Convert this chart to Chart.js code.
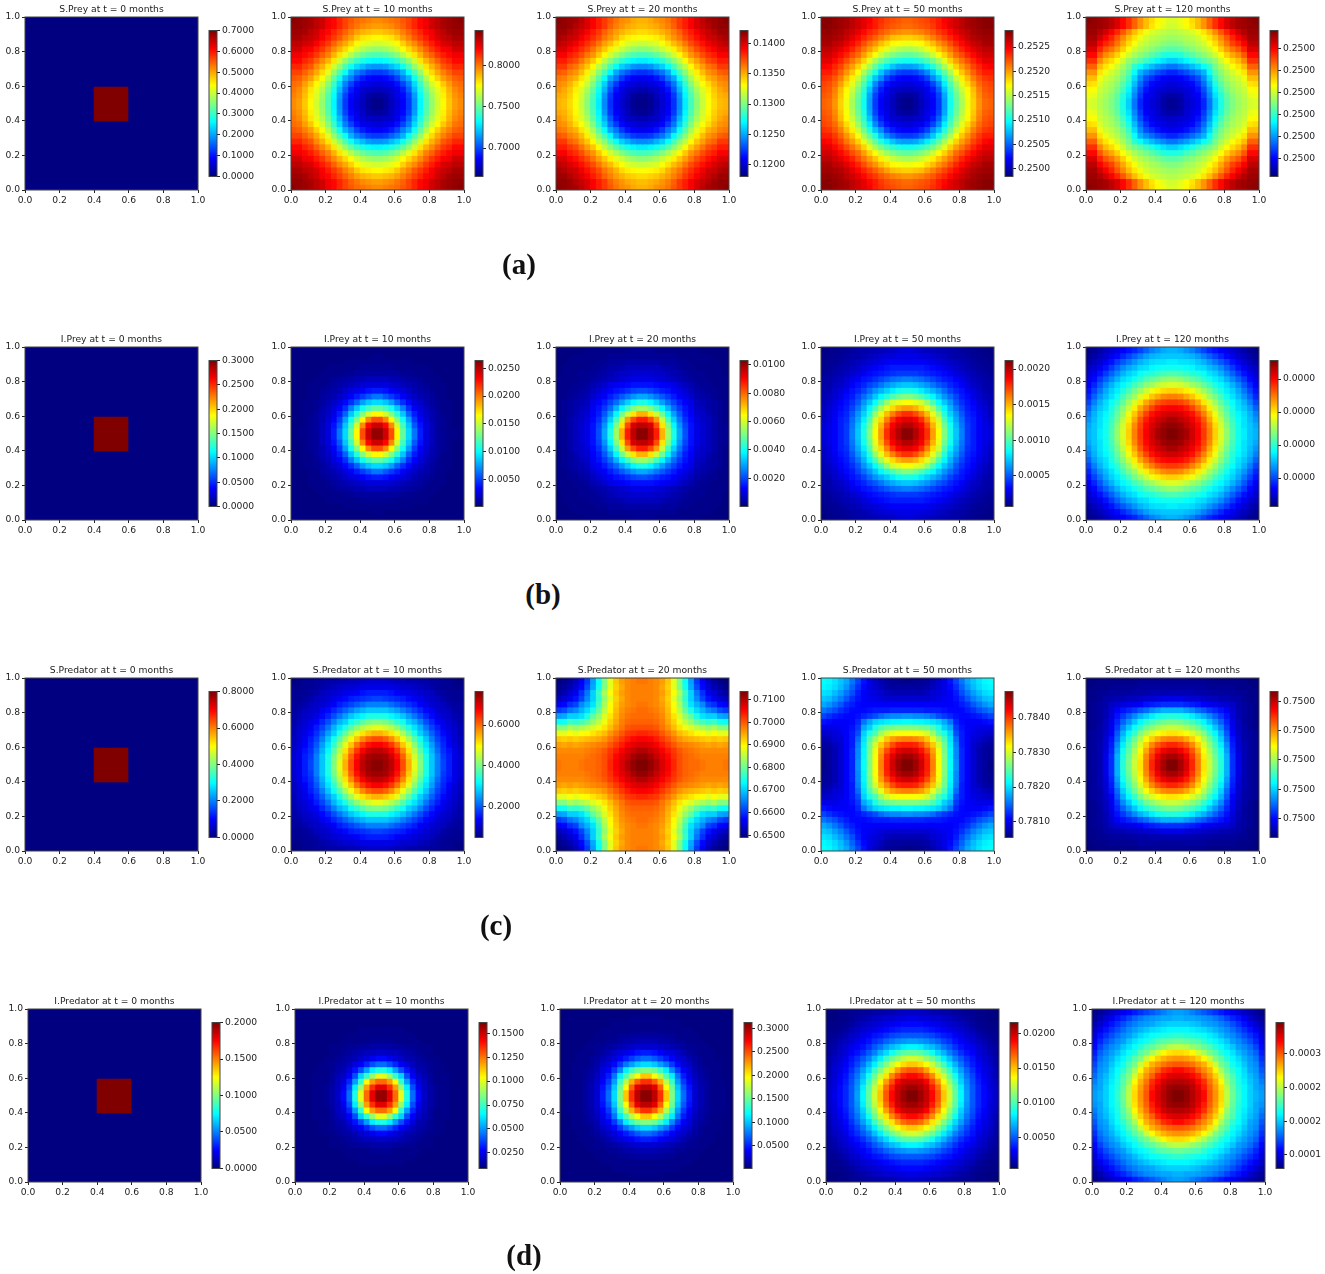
<!DOCTYPE html>
<html>
<head>
<meta charset="utf-8">
<script src="https://cdn.jsdelivr.net/npm/chart.js@4"></script>
<style>
  html, body { margin: 0; background: #fff; }
  #page { position: relative; width: 1325px; height: 1274px; overflow: hidden; }
  canvas { position: absolute; }
  .tag { position: absolute; font: bold 29px "Liberation Serif", serif; color: #111; transform: translate(-50%, -50%); }
</style>
</head>
<body>
<div id="page"></div>
<script>
// Cell levels, as % of each panel's colour bar.
// Fields are mirror symmetric, so only the corner triangle of the 30x30 grid is kept:
// row j runs from cell j to the middle of the panel.
var initialMask = [
  [0,0,0,0,0,0,0,0,0,0,0,0,0,0,0],[0,0,0,0,0,0,0,0,0,0,0,0,0,0],[0,0,0,0,0,0,0,0,0,0,0,0,0],
  [0,0,0,0,0,0,0,0,0,0,0,0],[0,0,0,0,0,0,0,0,0,0,0],[0,0,0,0,0,0,0,0,0,0],[0,0,0,0,0,0,0,0,0],
  [0,0,0,0,0,0,0,0],[0,0,0,0,0,0,0],[0,0,0,0,0,0],[0,0,0,0,0],[0,0,0,0],[100,100,100],[100,100],[100]
];
var sPrey10 = [
  [99,98,97,96,94,92,89,87,84,81,79,77,76,75,74],[98,97,96,94,92,89,87,84,81,78,76,74,73,72],
  [96,94,92,89,87,84,81,78,75,72,70,69,68],[93,91,88,85,82,79,75,72,68,65,64,63],
  [88,85,82,78,74,71,67,63,60,59,58],[82,78,74,70,66,62,58,55,53,52],[75,70,65,60,55,51,48,46,45],
  [65,58,52,47,43,40,38,37],[52,45,39,34,31,28,27],[38,30,25,22,19,18],[25,19,15,13,12],[14,11,10,9],[8,7,6],[4,3],[1]
];
var sPrey20 = [
  [99,98,97,96,94,91,88,85,82,79,76,74,73,71,70],[98,97,95,93,91,88,85,82,78,75,73,71,70,69],
  [95,93,91,88,85,82,78,75,72,70,68,67,66],[92,89,86,83,80,76,73,70,66,64,63,62],
  [86,83,80,76,72,69,65,62,59,58,57],[80,76,72,68,64,60,57,54,52,51],[73,68,63,58,54,50,47,45,44],
  [63,56,51,46,42,39,37,36],[51,44,38,33,30,27,26],[37,29,24,21,18,17],[24,18,14,12,11],[13,10,9,8],[7,6,5],[3,2],[1]
];
var sPrey50 = [
  [99,99,98,97,96,94,92,90,88,85,83,81,80,79,78],[99,98,97,96,94,92,90,87,85,82,80,79,78,77],
  [97,96,94,92,90,87,84,82,79,77,75,74,73],[95,93,90,87,84,81,78,75,72,69,68,67],
  [90,87,84,80,76,73,69,66,63,62,61],[84,80,76,72,68,64,60,57,55,54],[77,72,67,62,57,53,50,48,47],
  [67,60,54,49,45,42,40,39],[54,47,41,36,32,29,28],[40,32,26,22,19,18],[26,19,15,13,12],[14,11,10,9],[8,7,6],[4,3],[1]
];
var sPrey120 = [
  [99,98,97,96,94,91,87,83,78,73,69,66,63,61,59],[98,97,96,94,91,87,83,78,73,69,65,62,60,58],
  [95,92,88,84,79,74,69,65,61,59,57,56,55],[88,84,79,74,69,65,61,58,56,55,54,53],
  [81,76,71,66,62,58,56,54,53,51,50],[72,67,62,58,55,53,51,49,47,46],[62,58,54,51,49,46,44,41,40],
  [52,49,46,43,40,37,35,33],[42,38,34,31,28,26,24],[30,26,23,20,18,16],[20,17,14,12,11],[13,11,10,9],[9,8,7],[5,4],[2]
];
var iPrey10 = [
  [0,0,0,0,0,0,0,0,0,0,0,0,0,0,0],[0,0,0,0,0,0,0,0,0,0,0,0,0,1],[0,0,0,0,0,0,0,1,1,1,1,1,1],
  [0,0,0,1,1,1,1,1,1,2,2,2],[0,1,1,1,1,2,2,3,3,3,3],[1,1,2,3,3,4,5,5,6,6],[2,3,4,5,6,7,8,9,9],
  [4,5,7,9,10,12,14,15],[7,9,12,15,18,21,24],[13,17,22,28,32,34],[25,32,39,44,47],[41,50,58,63],[63,74,80],[87,92],[98]
];
var iPrey20 = [
  [0,0,0,0,0,1,1,1,1,1,1,1,1,2,2],[0,0,1,1,1,1,1,1,2,2,2,2,2,2],[1,1,1,1,1,2,2,3,3,3,4,4,4],
  [1,1,1,2,2,3,4,4,5,6,6,6],[2,2,2,3,4,5,6,7,7,8,8],[2,3,4,5,6,7,8,9,10,10],[5,6,8,10,11,12,13,14,14],
  [8,10,12,14,15,17,19,20],[12,15,18,21,24,27,29],[19,23,28,33,37,40],[30,37,44,50,53],[48,57,65,70],[72,80,85],[91,94],[99]
];
var iPrey50 = [
  [0,1,1,2,2,3,4,4,5,5,6,6,7,8,9],[1,2,2,3,4,4,5,6,7,8,9,9,10,10],[2,3,4,5,6,7,8,9,10,11,12,12,12],
  [4,5,6,7,9,10,12,13,14,15,15,15],[6,8,9,11,13,14,15,16,17,18,18],[10,12,14,15,17,19,21,23,24,25],
  [14,16,19,21,24,27,29,31,32],[19,23,27,30,33,36,39,40],[27,32,37,41,45,48,50],[38,45,52,58,60,62],
  [54,60,66,70,72],[69,75,80,83],[83,88,90],[92,95],[99]
];
var iPrey120 = [
  [1,2,4,6,8,10,12,14,16,19,22,25,27,29,30],[4,6,8,11,13,16,19,22,25,28,30,31,32,32],
  [8,11,14,18,21,24,27,30,32,34,35,35,36],[14,18,22,26,29,31,34,35,37,38,39,39],
  [22,26,30,33,35,38,40,41,43,44,45],[30,34,36,39,42,45,47,49,51,52],[37,40,44,47,51,53,56,58,59],
  [44,49,53,57,61,64,66,67],[53,59,64,68,71,74,75],[65,71,75,79,81,82],[76,81,85,87,88],[86,89,91,92],[92,94,96],[97,98],[100]
];
var sPred10 = [
  [0,1,2,2,3,3,4,4,5,5,6,6,7,8,8],[1,2,2,3,4,5,6,7,8,8,9,10,10,10],[2,3,4,6,7,8,9,10,11,12,14,15,15],
  [4,6,7,8,10,11,13,15,16,17,18,19],[7,8,10,12,15,17,19,21,23,25,25],[11,13,16,19,22,25,28,30,32,32],
  [16,20,24,28,32,35,37,40,40],[25,30,33,39,42,46,49,50],[35,40,46,51,55,58,60],[47,54,60,65,68,70],
  [61,68,74,78,80],[76,82,86,88],[88,92,94],[96,97],[99]
];
var sPred20 = [
  [0,1,3,6,12,18,28,38,50,60,68,72,74,75,76],[3,5,8,13,20,29,39,50,60,67,71,74,75,75],
  [8,11,17,24,33,43,54,62,68,72,74,75,75],[14,19,26,33,42,52,60,67,71,74,75,75],
  [26,30,35,44,54,62,68,72,74,75,76],[34,40,47,56,63,69,73,75,76,77],[47,52,59,65,70,74,76,77,77],
  [56,61,67,71,75,77,78,78],[65,69,73,76,79,80,80],[73,76,79,82,83,84],[79,82,85,87,88],[85,88,90,91],[91,93,95],[96,98],[100]
];
var sPred50 = [
  [38,37,35,32,29,24,19,14,10,7,5,3,2,2,1],[36,34,31,27,22,17,13,10,8,6,4,3,3,3],[31,28,24,20,15,12,10,9,8,6,5,5,5],
  [25,21,17,14,12,11,10,9,8,8,8,8],[17,15,13,12,12,12,12,12,12,12,12],[13,13,13,14,15,15,15,16,16,16],
  [14,16,18,20,23,25,26,26,27],[24,29,33,35,36,37,37,38],[33,40,45,48,49,50,50],[45,53,58,61,62,62],
  [60,68,72,74,75],[74,80,84,85],[86,90,92],[95,97],[100]
];
var sPred120 = [
  [0,0,1,1,1,1,1,1,1,2,2,2,2,2,2],[1,1,1,2,2,2,2,2,3,3,3,3,3,3],[2,2,3,3,3,3,4,4,4,5,5,5,5],
  [4,4,5,5,6,6,7,8,8,9,10,10],[7,8,9,10,11,12,14,15,16,17,17],[12,14,16,18,21,23,26,28,30,30],
  [18,22,26,30,33,36,39,40,41],[27,32,37,41,44,46,48,49],[38,43,48,51,54,56,57],[50,55,59,62,64,65],
  [62,67,71,74,75],[74,79,82,84],[85,89,91],[94,96],[100]
];
var iPred10 = [
  [0,0,0,0,0,0,0,0,0,0,0,0,0,0,0],[0,0,0,0,0,0,0,0,0,0,0,0,0,0],[0,0,0,0,0,0,0,0,0,0,0,0,0],
  [0,0,0,0,0,0,0,0,1,1,1,1],[0,0,0,0,0,1,1,1,1,1,1],[0,0,0,1,1,1,1,1,2,2],[1,1,1,2,2,3,3,4,4],
  [1,2,3,4,5,6,6,7],[3,4,5,7,9,11,13],[6,9,12,16,20,23],[14,20,28,36,40],[33,42,52,60],[62,72,77],[83,90],[98]
];
var iPred20 = [
  [0,0,0,0,0,0,0,0,0,0,0,0,0,0,0],[0,0,0,0,0,0,0,0,0,0,0,1,1,1],[0,0,0,0,0,0,0,1,1,1,1,1,1],
  [0,0,0,0,1,1,1,1,1,1,1,1],[0,0,1,1,1,1,2,2,3,3,3],[1,1,1,2,2,3,4,4,5,5],[2,2,3,4,5,6,7,8,8],
  [3,5,7,9,10,12,14,15],[7,9,12,15,18,21,23],[13,18,24,28,32,34],[26,36,43,48,50],[45,55,62,68],[70,78,83],[90,94],[99]
];
var iPred50 = [
  [0,0,1,1,2,2,3,3,4,4,5,5,6,7,7],[0,1,1,2,3,4,5,6,7,8,8,9,9,10],[1,2,3,5,6,7,8,9,10,11,12,13,13],
  [3,5,6,8,9,10,12,13,14,15,16,16],[7,8,10,12,14,15,17,19,20,21,21],[10,12,14,17,19,22,24,26,27,28],
  [14,17,21,24,28,31,33,36,37],[21,25,30,34,39,43,46,47],[31,36,43,48,52,56,58],[44,50,57,62,66,68],
  [58,65,72,77,79],[74,80,85,87],[88,92,93],[95,97],[100]
];
var iPred120 = [
  [1,3,5,7,9,11,13,15,17,19,21,23,25,27,28],[5,8,11,14,16,19,22,24,26,27,28,29,29,30],
  [11,14,17,20,23,25,27,28,29,31,32,33,33],[17,20,23,26,28,30,32,34,35,36,37,37],
  [23,26,28,31,34,36,38,39,40,41,42],[28,32,35,37,39,42,45,46,47,48],[35,38,41,45,47,50,52,55,56],
  [41,46,49,54,58,63,65,66],[50,57,63,67,70,72,73],[65,70,73,76,78,79],[74,78,83,85,87],[84,87,90,91],[92,94,95],[97,98],[100]
];

var speciesNames = ['S.Prey', 'I.Prey', 'S.Predator', 'I.Predator'];
var months = [0, 10, 20, 50, 120];
var rowTags = ['(a)', '(b)', '(c)', '(d)'];
var fields = [
  [initialMask, sPrey10, sPrey20, sPrey50, sPrey120],
  [initialMask, iPrey10, iPrey20, iPrey50, iPrey120],
  [initialMask, sPred10, sPred20, sPred50, sPred120],
  [initialMask, iPred10, iPred20, iPred50, iPred120]
];

// colour bar limits [low, high] and their ticks
var barRanges = [
  [[0, 0.7], [0.6655, 0.8429], [0.1181, 0.1421], [0.24984, 0.25284], [0.2499958, 0.2500292]],
  [[0, 0.3], [0.0001, 0.0264], [0.00002, 0.0103], [0.00007, 0.00212], [0.0000014, 0.0000456]],
  [[0, 0.8], [0.0506, 0.764], [0.6491, 0.7135], [0.78054, 0.78477], [0.7499736, 0.7500233]],
  [[0, 0.2], [0.0086, 0.1613], [0.0021, 0.3125], [0.00047, 0.0216], [0.0000796, 0.0002966]]
];
var barTicks = [
  [[0,0.1,0.2,0.3,0.4,0.5,0.6,0.7], [0.7,0.75,0.8], [0.12,0.125,0.13,0.135,0.14], [0.25,0.2505,0.251,0.2515,0.252,0.2525], [0.25,0.250005,0.25001,0.250015,0.25002,0.250025]],
  [[0,0.05,0.1,0.15,0.2,0.25,0.3], [0.005,0.01,0.015,0.02,0.025], [0.002,0.004,0.006,0.008,0.01], [0.0005,0.001,0.0015,0.002], [0.00001,0.00002,0.00003,0.00004]],
  [[0,0.2,0.4,0.6,0.8], [0.2,0.4,0.6], [0.65,0.66,0.67,0.68,0.69,0.7,0.71], [0.781,0.782,0.783,0.784], [0.74998,0.74999,0.75,0.75001,0.75002]],
  [[0,0.05,0.1,0.15,0.2], [0.025,0.05,0.075,0.1,0.125,0.15], [0.05,0.1,0.15,0.2,0.25,0.3], [0.005,0.01,0.015,0.02], [0.0001,0.00015,0.0002,0.00025]]
];
var barLabels = [
  [['0.0000','0.1000','0.2000','0.3000','0.4000','0.5000','0.6000','0.7000'], ['0.7000','0.7500','0.8000'], ['0.1200','0.1250','0.1300','0.1350','0.1400'], ['0.2500','0.2505','0.2510','0.2515','0.2520','0.2525'], ['0.2500','0.2500','0.2500','0.2500','0.2500','0.2500']],
  [['0.0000','0.0500','0.1000','0.1500','0.2000','0.2500','0.3000'], ['0.0050','0.0100','0.0150','0.0200','0.0250'], ['0.0020','0.0040','0.0060','0.0080','0.0100'], ['0.0005','0.0010','0.0015','0.0020'], ['0.0000','0.0000','0.0000','0.0000']],
  [['0.0000','0.2000','0.4000','0.6000','0.8000'], ['0.2000','0.4000','0.6000'], ['0.6500','0.6600','0.6700','0.6800','0.6900','0.7000','0.7100'], ['0.7810','0.7820','0.7830','0.7840'], ['0.7500','0.7500','0.7500','0.7500','0.7500']],
  [['0.0000','0.0500','0.1000','0.1500','0.2000'], ['0.0250','0.0500','0.0750','0.1000','0.1250','0.1500'], ['0.0500','0.1000','0.1500','0.2000','0.2500','0.3000'], ['0.0050','0.0100','0.0150','0.0200'], ['0.0001','0.0002','0.0002','0.0003']]
];

// layout
var rowLeft = [[25,291,556,821,1086], [25,291,556,821,1086], [25,291,556,821,1086], [28,295,560,826,1092]];
var rowTop = [17, 347, 678, 1009];
var tagPos = [[519,264], [543,594], [496,925], [524,1255]];
var BOX = 173;
var GRID = 30;
var FONT = { family: '"DejaVu Sans", sans-serif', size: 9.2 };
var INK = '#222';

function clip(v) { return Math.max(0, Math.min(1, v)); }

function jet(t) {
  var r = clip(1.5 - Math.abs(4 * t - 3));
  var g = clip(1.5 - Math.abs(4 * t - 2));
  var b = clip(1.5 - Math.abs(4 * t - 1));
  return 'rgb(' + Math.round(r * 255) + ',' + Math.round(g * 255) + ',' + Math.round(b * 255) + ')';
}

function fold(k) { return k < GRID / 2 ? k : GRID - 1 - k; }

function levelAt(tri, i, j) {
  var a = Math.min(fold(i), fold(j));
  var b = Math.max(fold(i), fold(j));
  return tri[a][b - a];
}

var frameBox = {
  id: 'frameBox',
  afterDraw: function(chart) {
    var a = chart.chartArea;
    var c = chart.ctx;
    c.save();
    c.strokeStyle = '#444';
    c.lineWidth = 1;
    c.strokeRect(a.left, a.top, a.right - a.left, a.bottom - a.top);
    c.restore();
  }
};

function addCanvas(left, top, w, h) {
  var cv = document.createElement('canvas');
  cv.width = w;
  cv.height = h;
  cv.style.left = left + 'px';
  cv.style.top = top + 'px';
  document.getElementById('page').appendChild(cv);
  return cv;
}

function heatAxis(fitKey, fitSize) {
  return {
    type: 'linear',
    min: 0,
    max: 1,
    afterFit: function(scale) { scale[fitKey] = fitSize; },
    border: { display: false },
    grid: { drawOnChartArea: false, drawTicks: true, tickLength: 3, tickColor: INK },
    ticks: {
      stepSize: 0.2,
      color: INK,
      font: FONT,
      padding: 2,
      maxRotation: 0,
      callback: function(v) { return Number(v).toFixed(1); }
    }
  };
}

function drawHeat(row, col) {
  var left = rowLeft[row][col];
  var top = rowTop[row];
  var tri = fields[row][col];
  var points = [];
  var colors = [];
  for (var j = 0; j < GRID; j++) {
    for (var i = 0; i < GRID; i++) {
      var level = levelAt(tri, i, j);
      points.push({ x: (i + 0.5) / GRID, y: (j + 0.5) / GRID });
      colors.push(jet(level / 100));
    }
  }
  // one pixel of overlap so no white shows through the antialiased cell edges
  var side = BOX / GRID + 1;
  new Chart(addCanvas(left - 32, top - 15, BOX + 46, BOX + 38), {
    type: 'scatter',
    data: {
      datasets: [{
        data: points,
        pointStyle: 'rect',
        pointRadius: side / Math.SQRT2,
        pointBorderWidth: 0,
        pointBackgroundColor: colors,
        showLine: false,
        clip: 0
      }]
    },
    options: {
      responsive: false,
      animation: false,
      events: [],
      layout: { padding: { left: 0, right: 14, top: 1.96, bottom: 0 } },
      plugins: {
        legend: { display: false },
        tooltip: { enabled: false },
        title: {
          display: true,
          fullSize: false,
          text: speciesNames[row] + ' at t = ' + months[col] + ' months',
          color: INK,
          font: { family: FONT.family, size: FONT.size, lineHeight: 1.2, weight: 'normal' },
          padding: { top: 0, bottom: 2 }
        }
      },
      scales: { x: heatAxis('height', 23), y: heatAxis('width', 32) }
    },
    plugins: [frameBox]
  });
}

function drawBar(row, col) {
  var barLeft = rowLeft[row][col] + 184;
  var barTop = rowTop[row] + 12;
  var range = barRanges[row][col];
  var values = barTicks[row][col];
  var labels = barLabels[row][col];
  new Chart(addCanvas(barLeft - 1, barTop - 6, 60, 161), {
    type: 'bar',
    data: {
      labels: [''],
      datasets: [{
        data: [range],
        barPercentage: 1,
        categoryPercentage: 1,
        backgroundColor: function(ctx) {
          var area = ctx.chart.chartArea;
          if (!area) return jet(0.5);
          var g = ctx.chart.ctx.createLinearGradient(0, area.bottom, 0, area.top);
          for (var s = 0; s <= 32; s++) g.addColorStop(s / 32, jet(s / 32));
          return g;
        }
      }]
    },
    options: {
      responsive: false,
      animation: false,
      events: [],
      layout: { padding: { left: 1, right: 2, top: 6, bottom: 6 } },
      plugins: { legend: { display: false }, tooltip: { enabled: false } },
      scales: {
        x: { display: false },
        y: {
          position: 'right',
          min: range[0],
          max: range[1],
          afterFit: function(scale) { scale.width = 49; },
          afterBuildTicks: function(scale) {
            scale.ticks = values.map(function(v) { return { value: v }; });
          },
          border: { display: false },
          grid: { drawOnChartArea: false, drawTicks: true, tickLength: 3, tickColor: INK },
          ticks: {
            autoSkip: false,
            color: INK,
            font: FONT,
            padding: 2,
            callback: function(v, idx) { return labels[idx]; }
          }
        }
      }
    },
    plugins: [frameBox]
  });
}

rowTop.forEach(function(_, row) {
  months.forEach(function(_, col) {
    drawHeat(row, col);
    drawBar(row, col);
  });
  var tag = document.createElement('div');
  tag.className = 'tag';
  tag.textContent = rowTags[row];
  tag.style.left = tagPos[row][0] + 'px';
  tag.style.top = tagPos[row][1] + 'px';
  document.getElementById('page').appendChild(tag);
});
</script>
</body>
</html>
